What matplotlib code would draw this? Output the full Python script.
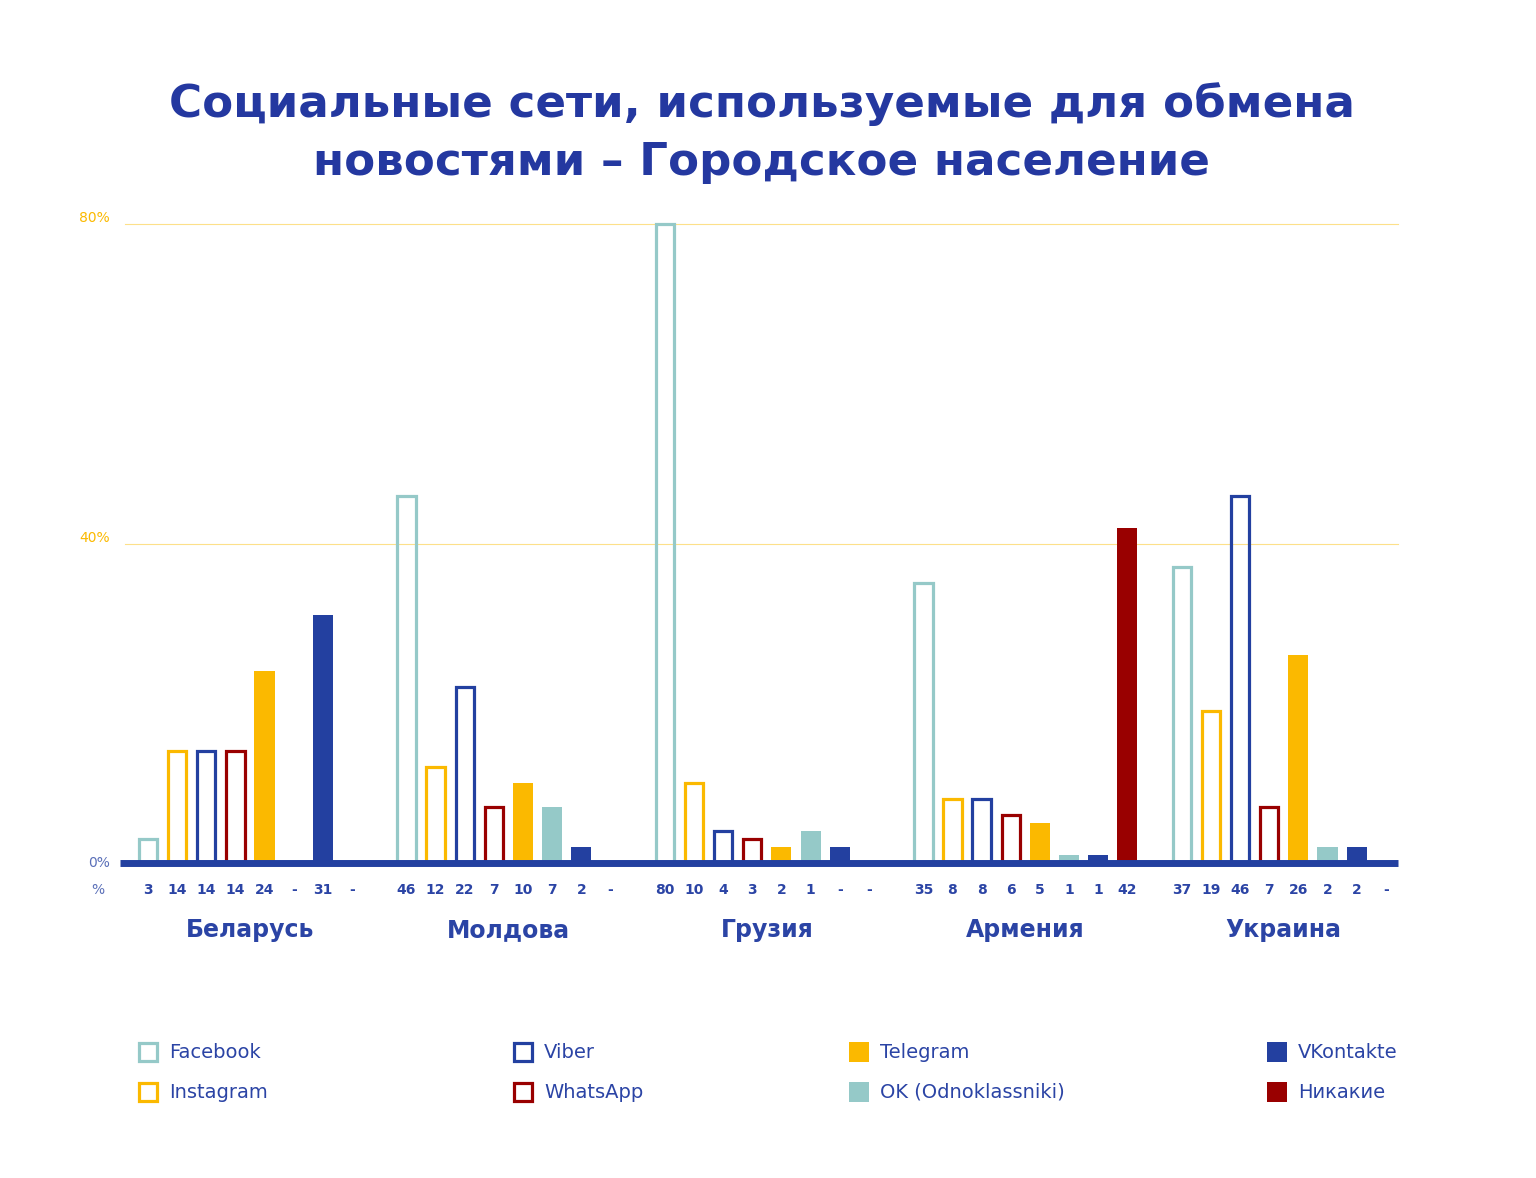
import matplotlib.pyplot as plt
from matplotlib.patches import Rectangle

countries = ["Беларусь", "Молдова", "Грузия", "Армения", "Украина"]
networks = ["Facebook", "Instagram", "Viber", "WhatsApp",
            "Telegram", "OK (Odnoklassniki)", "VKontakte", "Никакие"]

# bar heights as drawn in the picture (0 = no bar)
heights = [
    [3, 14, 14, 14, 24, 0, 31, 0],
    [46, 12, 22, 7, 10, 7, 2, 0],
    [80, 10, 4, 3, 2, 4, 2, 0],
    [35, 8, 8, 6, 5, 1, 1, 42],
    [37, 19, 46, 7, 26, 2, 2, 0],
]
# value labels printed under the axis
labels = [
    ["3", "14", "14", "14", "24", "-", "31", "-"],
    ["46", "12", "22", "7", "10", "7", "2", "-"],
    ["80", "10", "4", "3", "2", "1", "-", "-"],
    ["35", "8", "8", "6", "5", "1", "1", "42"],
    ["37", "19", "46", "7", "26", "2", "2", "-"],
]

TEAL = "#95c9c8"
YELLOW = "#fbb900"
BLUE = "#2340a0"
RED = "#990000"
TXT = "#2b44a5"

colors = [TEAL, YELLOW, BLUE, RED, YELLOW, TEAL, BLUE, RED]
filled = [False, False, False, False, True, True, True, True]

plt.rcParams['font.family'] = ['DejaVu Sans']

fig = plt.figure(figsize=(15.36, 11.78), dpi=100)
ax = fig.add_axes([120 / 1536, 1 - 863 / 1178, 1278 / 1536, 639 / 1178])

group_step = 8.87
width = 0.69

for g, country in enumerate(countries):
    for i, net in enumerate(networks):
        x = g * group_step + i
        h = heights[g][i]
        if h > 0:
            if filled[i]:
                ax.bar(x, h, width=width, color=colors[i], zorder=3, clip_on=False)
            else:
                ax.bar(x, h, width=width - 0.06, facecolor="none", edgecolor=colors[i],
                       linewidth=2.3, zorder=3, clip_on=False)
        ax.text(x, -3.4, labels[g][i], ha="center", va="center", fontsize=10,
                fontweight="bold", color=TXT)
    ax.text(g * group_step + 3.5, -8.4, country, ha="center", va="center",
            fontsize=17, fontweight="bold", color=TXT)

ax.text(-1.5, -3.4, "%", ha="right", va="center", fontsize=10, color="#5a6fb8")

for y in [40, 80]:
    ax.plot([-0.8, 42.9], [y, y], color="#fde08a", linewidth=0.8, zorder=1, clip_on=False)
    ax.text(-1.3, y + 0.7, f"{y}%", ha="right", va="center", fontsize=10, color=YELLOW)
ax.text(-1.3, 0, "0%", ha="right", va="center", fontsize=10, color="#5a6fb8")

ax.axhline(0, color=BLUE, linewidth=5, zorder=4, clip_on=False, solid_capstyle="butt")

ax.set_xlim(-0.96, 42.9)
ax.set_ylim(0, 80)
ax.axis("off")

# title
fig.text(0.496, 1 - 104 / 1178, "Социальные сети, используемые для обмена",
         ha="center", va="center", fontsize=32.5, fontweight="bold", color="#2438a0")
fig.text(0.496, 1 - 162 / 1178, "новостями – Городское население",
         ha="center", va="center", fontsize=32.5, fontweight="bold", color="#2438a0")

# legend
col_x = [138, 513, 849, 1267]
row_y = [1052, 1092]
for k, net in enumerate(networks):
    col = [0, 0, 1, 1, 2, 2, 3, 3][k]
    row = k % 2
    x0 = col_x[col] / 1536
    yc = 1 - row_y[row] / 1178
    sw, sh = 20 / 1536, 20 / 1178
    if filled[k]:
        r = Rectangle((x0, yc - sh / 2), sw, sh, transform=fig.transFigure,
                      facecolor=colors[k], edgecolor="none")
    else:
        r = Rectangle((x0 + 1.2 / 1536, yc - sh / 2 + 1.2 / 1178), sw - 2.4 / 1536,
                      sh - 2.4 / 1178, transform=fig.transFigure,
                      facecolor="none", edgecolor=colors[k], linewidth=2.3)
    fig.patches.append(r)
    fig.text(x0 + 31 / 1536, yc, net, ha="left", va="center", fontsize=14, color=TXT)

plt.savefig("out.png", dpi=100, facecolor="white")
